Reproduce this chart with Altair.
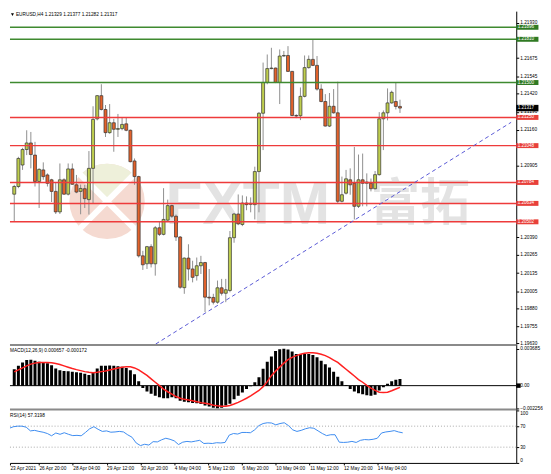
import json
import altair as alt
import pandas as pd

# ---------------- data ----------------
opens = [
    1.20700, 1.20755, 1.20909, 1.21020, 1.21067, 1.20980, 1.20791, 1.20874, 1.20838, 1.20803,
    1.20720, 1.20573, 1.20803, 1.20700, 1.20881, 1.20767, 1.20720, 1.20739, 1.20661, 1.20885,
    1.21240, 1.21406, 1.21307, 1.21141, 1.21212, 1.21165, 1.21170, 1.21204, 1.21158, 1.20938,
    1.20826, 1.20258, 1.20201, 1.20324, 1.20201, 1.20459, 1.20412, 1.20514, 1.20618, 1.20542,
    1.20393, 1.20030, 1.20242, 1.20164, 1.20116, 1.20187, 1.20210, 1.19962, 1.19960, 1.19926,
    1.20029, 1.19990, 1.20010, 1.20388, 1.20558, 1.20483, 1.20636, 1.20627, 1.20625, 1.20862,
    1.21280, 1.21501, 1.21600, 1.21604, 1.21501, 1.21690, 1.21694, 1.21580, 1.21264, 1.21262,
    1.21401, 1.21607, 1.21666, 1.21623, 1.21453, 1.21364, 1.21188, 1.21330, 1.21283, 1.20649,
    1.20707, 1.20803, 1.20778, 1.20613, 1.20803, 1.20778, 1.20778, 1.20739, 1.20840, 1.21240,
    1.21283, 1.21354, 1.21364, 1.21329]
highs = [
    1.20767, 1.20968, 1.21032, 1.21158, 1.21146, 1.21075, 1.20885, 1.20928, 1.20849, 1.20810,
    1.20786, 1.20920, 1.20814, 1.20920, 1.20920, 1.20838, 1.20769, 1.20767, 1.21009, 1.21330,
    1.21410, 1.21488, 1.21339, 1.21346, 1.21240, 1.21275, 1.21252, 1.21252, 1.21163, 1.20956,
    1.20832, 1.20294, 1.20329, 1.20341, 1.20471, 1.20507, 1.20743, 1.20661, 1.20625, 1.20554,
    1.20400, 1.20246, 1.20341, 1.20223, 1.20246, 1.20258, 1.20215, 1.20164, 1.19986, 1.20081,
    1.20093, 1.20093, 1.20436, 1.20565, 1.20698, 1.20691, 1.20684, 1.20677, 1.20897, 1.21288,
    1.21643, 1.21701, 1.21749, 1.21607, 1.21737, 1.21726, 1.21761, 1.21583, 1.21273, 1.21465,
    1.21694, 1.21694, 1.21808, 1.21690, 1.21488, 1.21417, 1.21425, 1.21453, 1.21506, 1.20826,
    1.20874, 1.20885, 1.21039, 1.20984, 1.20991, 1.20849, 1.20812, 1.20866, 1.21288, 1.21300,
    1.21458, 1.21442, 1.21500, 1.21377]
lows = [
    1.20507, 1.20743, 1.20874, 1.20980, 1.20885, 1.20755, 1.20601, 1.20803, 1.20755, 1.20644,
    1.20558, 1.20558, 1.20696, 1.20691, 1.20767, 1.20707, 1.20556, 1.20601, 1.20554, 1.20636,
    1.21229, 1.21300, 1.21110, 1.21133, 1.21004, 1.21110, 1.21158, 1.21151, 1.20928, 1.20767,
    1.20246, 1.20157, 1.20164, 1.20175, 1.20116, 1.20400, 1.20405, 1.20507, 1.20530, 1.20365,
    1.20022, 1.19986, 1.20081, 1.20068, 1.20081, 1.20128, 1.19855, 1.19903, 1.19910, 1.19915,
    1.19974, 1.19926, 1.19997, 1.20352, 1.20478, 1.20471, 1.20585, 1.20570, 1.20519, 1.20570,
    1.21016, 1.21488, 1.21595, 1.21496, 1.21346, 1.21686, 1.21576, 1.21259, 1.21245, 1.21231,
    1.21394, 1.21600, 1.21618, 1.21442, 1.21359, 1.21185, 1.21181, 1.21277, 1.20636, 1.20641,
    1.20698, 1.20696, 1.20519, 1.20601, 1.20613, 1.20613, 1.20720, 1.20734, 1.20833, 1.21016,
    1.21229, 1.21348, 1.21307, 1.21282]
closes = [
    1.20755, 1.20956, 1.21020, 1.21067, 1.20984, 1.20791, 1.20878, 1.20826, 1.20778, 1.20720,
    1.20573, 1.20803, 1.20700, 1.20881, 1.20771, 1.20715, 1.20741, 1.20668, 1.20885, 1.21236,
    1.21406, 1.21307, 1.21141, 1.21212, 1.21165, 1.21170, 1.21200, 1.21158, 1.20933, 1.20826,
    1.20258, 1.20194, 1.20324, 1.20201, 1.20459, 1.20412, 1.20519, 1.20618, 1.20542, 1.20393,
    1.20033, 1.20242, 1.20164, 1.20104, 1.20187, 1.20210, 1.19962, 1.19956, 1.19926, 1.20029,
    1.19990, 1.20015, 1.20388, 1.20558, 1.20487, 1.20636, 1.20625, 1.20634, 1.20862, 1.21280,
    1.21501, 1.21600, 1.21604, 1.21501, 1.21690, 1.21694, 1.21580, 1.21264, 1.21260, 1.21401,
    1.21607, 1.21666, 1.21623, 1.21453, 1.21364, 1.21188, 1.21330, 1.21283, 1.20649, 1.20696,
    1.20810, 1.20767, 1.20613, 1.20803, 1.20778, 1.20787, 1.20739, 1.20840, 1.21240, 1.21283,
    1.21354, 1.21430, 1.21329, 1.21317]

macd = [
    0.00164, 0.00198, 0.00232, 0.00256, 0.00259, 0.00249, 0.00239, 0.00232, 0.00225, 0.00205,
    0.00171, 0.00154, 0.00147, 0.00143, 0.00140, 0.00133, 0.00130, 0.00119, 0.00106, 0.00130,
    0.00171, 0.00198, 0.00198, 0.00201, 0.00198, 0.00195, 0.00188, 0.00177, 0.00154, 0.00113,
    0.00044, -0.00024, -0.00058, -0.00082, -0.00102, -0.00116, -0.00126, -0.00126, -0.00116, -0.00126,
    -0.00150, -0.00160, -0.00167, -0.00174, -0.00177, -0.00184, -0.00198, -0.00208, -0.00220, -0.002256,
    -0.00220, -0.00198, -0.00180, -0.00137, -0.00102, -0.00068, -0.00034, -0.00005, 0.00035, 0.00085,
    0.00170, 0.00240, 0.00290, 0.00345, 0.00364, 0.003685, 0.00362, 0.00341, 0.00317, 0.00317,
    0.00317, 0.00317, 0.00307, 0.00283, 0.00249, 0.00215, 0.00181, 0.00140, 0.00089, 0.00044,
    0.00007, -0.00034, -0.00058, -0.00075, -0.00085, -0.00096, -0.00102, -0.00092, -0.00048, -0.00017,
    0.00020, 0.00044, 0.00058, 0.000657]
signal = [
    0.00137, 0.00157, 0.00177, 0.00198, 0.00215, 0.00225, 0.00232, 0.00232, 0.00232, 0.00229,
    0.00222, 0.00212, 0.00198, 0.00184, 0.00171, 0.00160, 0.00150, 0.00140, 0.00133, 0.00130,
    0.00133, 0.00140, 0.00147, 0.00157, 0.00167, 0.00177, 0.00184, 0.00188, 0.00188, 0.00177,
    0.00157, 0.00130, 0.00102, 0.00068, 0.00034, 0.00000, -0.00034, -0.00061, -0.00085, -0.00109,
    -0.00126, -0.00137, -0.00143, -0.00150, -0.00160, -0.00171, -0.00177, -0.00184, -0.00195, -0.00201,
    -0.00205, -0.00205, -0.00198, -0.00184, -0.00167, -0.00147, -0.00126, -0.00102, -0.00075, -0.00048,
    -0.00010, 0.00040, 0.00100, 0.00145, 0.00185, 0.00225, 0.00259, 0.00283, 0.00300, 0.00314,
    0.00324, 0.00328, 0.00328, 0.00324, 0.00314, 0.00300, 0.00280, 0.00256, 0.00232, 0.00198,
    0.00164, 0.00130, 0.00096, 0.00061, 0.00034, 0.00003, -0.00024, -0.00048, -0.00065, -0.00068,
    -0.00065, -0.00051, -0.00034, -0.000172]
rsi = [
    66, 69, 70, 70, 68, 61, 62, 60, 58.5, 56,
    51.7, 57, 54.5, 57.5, 54.5, 52, 52.5, 51.7, 58, 65,
    69, 64, 60, 61, 58.5, 59, 60, 59, 53.5, 49,
    38, 33, 35.5, 34, 40.5, 40, 44, 47, 45, 42,
    35, 39.5, 41, 40, 41.5, 43, 37, 37.5, 37, 38.5,
    38, 39, 53, 56, 55, 58, 58, 57.5, 63, 71,
    75, 76.5, 76, 72.5, 75, 76.5, 71, 63, 60, 62,
    65, 67, 66, 61, 56, 52, 53.7, 53.7, 39.5, 39,
    39.5, 41, 39, 43, 44.5, 44, 45, 47, 57, 59,
    60, 61.5, 59, 57.3198]

green_levels = [1.21896, 1.21810, 1.21500]
red_levels = [1.21250, 1.21048, 1.20784, 1.20634, 1.20502]
last_price = [1.21317]
price_ticks = [1.21930, 1.21675, 1.21545, 1.21420, 1.21290, 1.21160,
               1.20905, 1.20390, 1.20265, 1.20135, 1.20005,
               1.19880, 1.19755, 1.19630]
macd_ticks = [0.003685, 0.0, -0.002256]
rsi_ticks = [100, 70, 30, 0]
time_ticks = [0.164, 7, 15, 23, 31, 39, 47, 55, 63, 71, 79, 87]
time_labels = ["23 Apr 2021", "26 Apr 20:00", "28 Apr 04:00", "29 Apr 12:00", "30 Apr 20:00",
               "4 May 04:00", "5 May 12:00", "6 May 20:00", "10 May 04:00", "11 May 12:00",
               "12 May 20:00", "14 May 04:00"]
trend_i = [34.1, 119.8]
trend_p = [1.19626, 1.21215]
header_text = ["EURUSD,H4  1.21329 1.21377 1.21282 1.21317"]
macd_text = ["MACD(12,26,9) 0.000657 -0.000172"]
rsi_text = ["RSI(14) 57.3198"]
wm_latin = ["FXTM"]
wm_cjk = ["富拓"]

# ---------------- styling ----------------
FONT = "Liberation Sans"
FS = 4.8
W = 511
H_MAIN, H_MACD, H_RSI = 336, 67, 53
BULL, BEAR = "#bfce4e", "#e3622b"
GREEN, RED = "#3f8a30", "#ee3b3b"
GREEN_BOX, RED_BOX = "#2f7a23", "#e8403a"
BOX = "M-1,-0.223H1V0.223H-1Z"
BOX_TALL = "M-1,-0.29H1V0.29H-1Z"

xs = alt.Scale(domain=[0.164, 119.84], nice=False, zero=False)
ys = alt.Scale(domain=[1.196261, 1.220117], nice=False, zero=False)
ms = alt.Scale(domain=[-0.0024752, 0.0041584], nice=False, zero=False)
rs = alt.Scale(domain=[0, 100], nice=False, zero=False)

axis_common = dict(title=None, grid=False, domainColor="black", domainWidth=1,
                   tickColor="black", tickWidth=1, labelFont=FONT, labelFontSize=FS,
                   labelColor="black", labelOverlap=False, zindex=0)

price_axis = alt.Axis(orient="right", values=price_ticks, format=".5f", tickSize=2.5,
                      labelPadding=1, labelFlush=False, **axis_common)
macd_axis = alt.Axis(orient="right", values=macd_ticks, tickSize=2.5, labelPadding=1,
                     labelExpr="datum.value == 0 ? '0.00' : format(datum.value, '.6f')",
                     labelFlush=False, **axis_common)
rsi_axis = alt.Axis(orient="right", values=rsi_ticks, format="d", tickSize=2.5,
                    labelPadding=1, labelFlush=True, **axis_common)
time_expr = f"{json.dumps(time_labels)}[indexof({json.dumps(time_ticks)}, datum.value)]"
time_axis = alt.Axis(orient="bottom", values=time_ticks, labelExpr=time_expr, tickSize=2,
                     labelPadding=0.5, labelAlign="left", labelFlush=False, **axis_common)

cdf = pd.DataFrame({"i": list(range(len(opens))), "open": opens, "high": highs,
                    "low": lows, "close": closes})
up = cdf[cdf["close"] >= cdf["open"]]
dn = cdf[cdf["close"] < cdf["open"]]
X = alt.X("i:Q", scale=xs, axis=None)

one = pd.DataFrame({"k": [0]})

# ---------------- main panel ----------------
logo_circle = alt.Chart(one).mark_point(shape="circle", filled=True, size=5776,
                                        color="#f5dad1", opacity=1).encode(
    x=alt.value(98), y=alt.value(192))
logo_top = alt.Chart(one).mark_point(
    shape="M0,0L-0.707,-0.707A1,1,0,0,1,0.707,-0.707Z", filled=True, size=5776,
    color="#eef0da", opacity=1).encode(x=alt.value(98), y=alt.value(192))
logo_x = alt.Chart(one).mark_point(
    shape="M-0.75,-0.75L0.75,0.75M0.75,-0.75L-0.75,0.75", filled=False, size=5776,
    color="white", strokeWidth=6, opacity=1).encode(x=alt.value(98), y=alt.value(192))
wm1 = alt.Chart(pd.DataFrame({"t": wm_latin})).mark_text(
    font=FONT, fontSize=61, fontWeight="bold", color="#e3e3e3", align="left",
    baseline="alphabetic").encode(x=alt.value(157), y=alt.value(215), text="t:N")
wm2 = alt.Chart(pd.DataFrame({"t": wm_cjk})).mark_text(
    font="Noto Sans CJK SC", fontSize=50, fontWeight="bold", color="#e3e3e3", align="left",
    baseline="alphabetic").encode(x=alt.value(364), y=alt.value(211), text="t:N")


def YP(field):
    return alt.Y(field, scale=ys, axis=price_axis)


wick = alt.Chart(cdf).mark_rule(color="#8f8f8f", strokeWidth=1, clip=True).encode(
    x=X, y=YP("low:Q"), y2="high:Q")
body_up = alt.Chart(up).mark_bar(width=3, color=BULL, stroke="#333333", strokeWidth=0.7,
                                 clip=True).encode(x=X, y=YP("open:Q"), y2="close:Q")
body_dn = alt.Chart(dn).mark_bar(width=3, color=BEAR, stroke="#333333", strokeWidth=0.7,
                                 clip=True).encode(x=X, y=YP("open:Q"), y2="close:Q")

gdf = pd.DataFrame({"p": green_levels, "t": [f"{v:.5f}" for v in green_levels]})
rdf = pd.DataFrame({"p": red_levels, "t": [f"{v:.5f}" for v in red_levels]})
ldf = pd.DataFrame({"p": last_price, "t": [f"{v:.5f}" for v in last_price]})

g_rules = alt.Chart(gdf).mark_rule(color=GREEN, strokeWidth=1.5).encode(y=YP("p:Q"))
r_rules = alt.Chart(rdf).mark_rule(color=RED, strokeWidth=1.5).encode(y=YP("p:Q"))

tdf = pd.DataFrame({"i": trend_i, "p": trend_p})
trend = alt.Chart(tdf).mark_line(color="#5a5ad6", strokeWidth=1, strokeDash=[4, 3],
                                 clip=True).encode(x=X, y=YP("p:Q"))

g_box = alt.Chart(gdf).mark_point(shape=BOX, filled=True, size=502, color=GREEN_BOX,
                                  opacity=1).encode(x=alt.value(522.2), y=YP("p:Q"))
r_box = alt.Chart(rdf).mark_point(shape=BOX, filled=True, size=502, color=RED_BOX,
                                  opacity=1).encode(x=alt.value(522.2), y=YP("p:Q"))
l_box = alt.Chart(ldf).mark_point(shape=BOX_TALL, filled=True, size=502, color="black",
                                  opacity=1).encode(x=alt.value(522.2), y=YP("p:Q"))
box_txt = dict(font=FONT, fontSize=4.6, color="white", align="left", baseline="middle")
g_txt = alt.Chart(gdf).mark_text(**box_txt).encode(x=alt.value(512.4), y=YP("p:Q"), text="t:N")
r_txt = alt.Chart(rdf).mark_text(**box_txt).encode(x=alt.value(512.4), y=YP("p:Q"), text="t:N")
l_txt = alt.Chart(ldf).mark_text(**box_txt).encode(x=alt.value(512.4), y=YP("p:Q"), text="t:N")

tri = alt.Chart(one).mark_point(shape="triangle-down", filled=True, size=9, color="black",
                                opacity=1).encode(x=alt.value(2.5), y=alt.value(3.5))
header = alt.Chart(pd.DataFrame({"t": header_text})).mark_text(
    font=FONT, fontSize=FS, color="black", align="left", baseline="middle").encode(
    x=alt.value(6), y=alt.value(3.5), text="t:N")

main = alt.layer(logo_circle, logo_top, logo_x, wm1, wm2, wick, body_up, body_dn,
                 g_rules, r_rules, trend, g_box, r_box, l_box, g_txt, r_txt, l_txt,
                 tri, header).properties(width=W, height=H_MAIN)

# ---------------- MACD panel ----------------
mdf = pd.DataFrame({"i": list(range(len(macd))), "m": macd, "s": signal, "z": [0.0] * len(macd)})


def YM(field):
    return alt.Y(field, scale=ms, axis=macd_axis)


sep_top = alt.Chart(one).mark_rule(color="#8a8a8a", strokeWidth=2).encode(
    x=alt.value(0), x2=alt.value(W), y=alt.value(1))
sep_bot = alt.Chart(one).mark_rule(color="#8a8a8a", strokeWidth=2).encode(
    x=alt.value(0), x2=alt.value(W), y=alt.value(66))
zero_line = alt.Chart(pd.DataFrame({"z": [0.0]})).mark_rule(color="black", strokeWidth=1).encode(
    y=YM("z:Q"))
mbars = alt.Chart(mdf).mark_bar(width=3, color="black", clip=True).encode(
    x=X, y=YM("m:Q"), y2="z:Q")
mline = alt.Chart(mdf).mark_line(color="#ff2020", strokeWidth=1.5, clip=True).encode(
    x=X, y=YM("s:Q"))
mzero_box = alt.Chart(pd.DataFrame({"z": [0.0]})).mark_point(
    shape="M-1,-1H1V1H-1Z", filled=True, size=20, color="black", opacity=1).encode(
    x=alt.value(513.2), y=YM("z:Q"))
mlabel = alt.Chart(pd.DataFrame({"t": macd_text})).mark_text(
    font=FONT, fontSize=FS, color="black", align="left", baseline="middle").encode(
    x=alt.value(0), y=alt.value(6.7), text="t:N")
macd_panel = alt.layer(sep_top, sep_bot, zero_line, mbars, mline, mzero_box, mlabel).properties(
    width=W, height=H_MACD)

# ---------------- RSI panel ----------------
rdf2 = pd.DataFrame({"i": list(range(len(rsi))), "r": rsi})
levels = alt.Chart(pd.DataFrame({"v": [70, 30]})).mark_rule(
    color="#a8a8a8", strokeWidth=1, strokeDash=[1, 2]).encode(
    y=alt.Y("v:Q", scale=rs, axis=rsi_axis))
rline = alt.Chart(rdf2).mark_line(color="#3d8cf0", strokeWidth=1, clip=True).encode(
    x=alt.X("i:Q", scale=xs, axis=time_axis), y=alt.Y("r:Q", scale=rs, axis=rsi_axis))
rlabel = alt.Chart(pd.DataFrame({"t": rsi_text})).mark_text(
    font=FONT, fontSize=FS, color="black", align="left", baseline="middle").encode(
    x=alt.value(0), y=alt.value(5.7), text="t:N")
rsi_panel = alt.layer(levels, rline, rlabel).properties(width=W, height=H_RSI)

chart = alt.vconcat(main, macd_panel, rsi_panel, spacing=0, bounds="flush").resolve_scale(
    x="independent", y="independent").properties(padding=0).configure_view(
    stroke="transparent")

chart.save("out.html", embed_options={"renderer": "svg", "actions": False})
